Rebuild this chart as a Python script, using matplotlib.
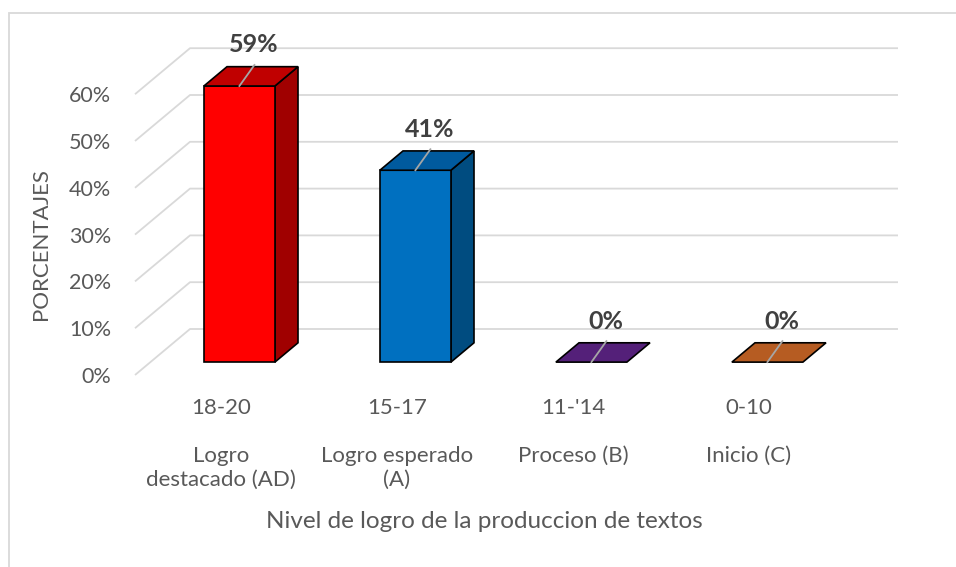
import matplotlib
matplotlib.use("Agg")
import matplotlib.pyplot as plt
from matplotlib.patches import Polygon, Rectangle
from matplotlib.transforms import offset_copy

# ---------------- data ----------------
categories = ["18-20", "15-17", "11-'14", "0-10"]
levels = ["Logro\ndestacado (AD)", "Logro esperado\n(A)", "Proceso (B)", "Inicio (C)"]
values = [59, 41, 0, 0]
value_labels = ["59%", "41%", "0%", "0%"]
yticks = [0, 10, 20, 30, 40, 50, 60]
ytick_labels = ["0%", "10%", "20%", "30%", "40%", "50%", "60%"]
y_title = "PORCENTAJES"
x_title = "Nivel de logro de la produccion de textos"

front_colors = ["#FF0000", "#0070C0", "#7030A0", "#C55A11"]
top_colors = ["#C00000", "#005A9E", "#542079", "#B65C22"]
side_colors = ["#A00000", "#004C80", "#3E1860", "#8A4517"]

# ---------------- layout ----------------
W, H = 956, 567
FONT = ["Lato", "DejaVu Sans"]
TXT = "#595959"
GRID = "#D9D9D9"

fig = plt.figure(figsize=(W / 100, H / 100), dpi=100)
ax = fig.add_axes([0, 0, 1, 1])
ax.axis("off")

# pixel mapping: x_px = X0 + DX*i ; y_px(from top) = Y0 - DY*p
X0, DX = 224.0, 176.0
Y0, DY = 375.0, 4.68
ax.set_xlim((0 - X0) / DX, (W - X0) / DX)
ax.set_ylim((Y0 - H) / DY, Y0 / DY)

# depth of the 3D floor (full) in data units
ddx = 55.0 / DX
ddy = 46.0 / DY
x_left = (135.0 - X0) / DX
x_right = (843.0 - X0) / DX

# walls / gridlines
for p in yticks:
    ax.plot([x_left, x_left + ddx, x_right + ddx], [p, p + ddy, p + ddy],
            color=GRID, lw=1.3, solid_capstyle="butt", zorder=1)

# bars
bw = 71.0 / DX
t0, t1 = 0.28, 0.70
for i, v in enumerate(values):
    xl = i - bw / 2 + t0 * ddx
    xr = i + bw / 2 + t0 * ddx
    yb = t0 * ddy
    yt = v + t0 * ddy
    bdx = (t1 - t0) * ddx
    bdy = (t1 - t0) * ddy
    ekw = dict(edgecolor="black", linewidth=1.2, joinstyle="miter", zorder=3)
    if v > 0:
        ax.add_patch(Polygon([(xr, yb), (xr + bdx, yb + bdy), (xr + bdx, yt + bdy), (xr, yt)],
                             closed=True, facecolor=side_colors[i], **ekw))
        ax.add_patch(Polygon([(xl, yb), (xr, yb), (xr, yt), (xl, yt)],
                             closed=True, facecolor=front_colors[i], **ekw))
    ax.add_patch(Polygon([(xl, yt), (xr, yt), (xr + bdx, yt + bdy), (xl + bdx, yt + bdy)],
                         closed=True, facecolor=top_colors[i], **ekw))

    # leader line + data label
    cx = i + t0 * ddx
    p0 = ax.transData.transform((cx, yt))
    pts = ax.transData.inverted().transform([p0, (p0[0] + 15, p0[1] + 21)])
    ax.plot(pts[:, 0], pts[:, 1], color="#A6A6A6", lw=1.3, zorder=4)
    tr_txt = offset_copy(ax.transData, fig=fig, x=14, y=41, units="dots")
    ax.text(cx, yt, value_labels[i], transform=tr_txt, ha="center", va="center",
            fontsize=18, fontweight="bold", color="#404040", family=FONT, zorder=5)

# y tick labels
for p, lab in zip(yticks, ytick_labels):
    ax.text((111.0 - X0) / DX, p, lab, ha="right", va="center_baseline",
            fontsize=15.5, color=TXT, family=FONT)

# category labels
for i, (c, lv) in enumerate(zip(categories, levels)):
    ax.text(i - 3.0 / DX, (Y0 - 398.0) / DY, c + "\n\n" + lv, ha="center", va="top",
            multialignment="center", fontsize=16, color=TXT, family=FONT,
            linespacing=1.25)

# axis titles
ax.text((41.0 - X0) / DX, (Y0 - 244.0) / DY, y_title, rotation=90, ha="center",
        va="center", fontsize=16, color=TXT, family=FONT)
ax.text((484.0 - X0) / DX, (Y0 - 521.0) / DY, x_title, ha="center", va="center",
        fontsize=17.5, color=TXT, family=FONT)

# chart border
fig.add_artist(Rectangle((9.0 / W, -0.05), 1.2, 1.05 - 13.0 / H,
                         transform=fig.transFigure, fill=False,
                         edgecolor=GRID, linewidth=1.3))

fig.savefig("out.png", dpi=100, facecolor="white")
